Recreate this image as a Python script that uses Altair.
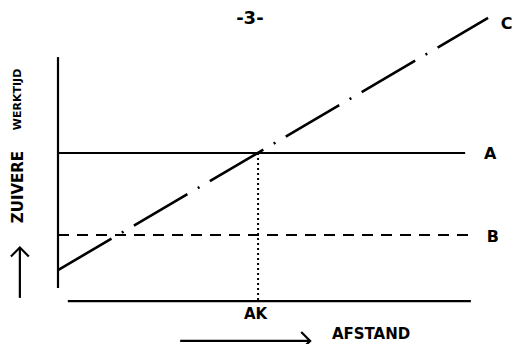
import altair as alt
import pandas as pd

# Diagram coordinates (x: afstand 0-100, y: zuivere werktijd 0-100)
# Axes of the diagram
axis_names = ["y_axis", "x_axis"]
axis_x1 = [0.0, 2.4]
axis_x2 = [0.0, 100.7]
axis_y1 = [0.0, -5.7]
axis_y2 = [100.4, -5.7]

# Horizontal lines A (solid) and B (dashed)
hline_names = ["A", "B"]
hline_x_end = [99.3, 101.0]
hline_y = [58.7, 23.0]

# Diagonal line C
c_x = [0.0, 104.9]
c_y = [7.8, 117.4]

# AK marker
ak_x = 48.8
ak_y_top = 58.7
ak_y_bottom = -5.7

# Labels
label_text = ["A", "B", "C", "AK", "-3-", "AFSTAND"]
label_x = [103.9, 104.6, 108.0, 48.2, 46.8, 66.8]
label_y = [58.4, 22.3, 114.8, -11.4, 117.0, -20.0]
label_align = ["left", "left", "left", "center", "center", "left"]
label_size = [16, 16, 16, 15, 18, 15]

ylabel_text = ["ZUIVERE", "WERKTIJD"]
ylabel_x = [-9.8, -9.8]
ylabel_y = [43.9, 82.0]
ylabel_size = [15, 11]

# Arrows
arrow_names = ["x_arrow", "y_arrow"]
arrow_x1 = [29.8, -9.3]
arrow_x2 = [61.5, -9.3]
arrow_y1 = [-23.0, -4.3]
arrow_y2 = [-23.0, 17.6]

xs = alt.Scale(domain=[0, 100], nice=False, zero=False)
ys = alt.Scale(domain=[0, 100], nice=False, zero=False)
FONT = "DejaVu Sans"

axes_df = pd.DataFrame({"n": axis_names, "x": axis_x1, "x2": axis_x2, "y": axis_y1, "y2": axis_y2})
axes = alt.Chart(axes_df).mark_rule(color="black", strokeWidth=2.2).encode(
    x=alt.X("x:Q", scale=xs, axis=None), x2="x2:Q",
    y=alt.Y("y:Q", scale=ys, axis=None), y2="y2:Q")

h_df = pd.DataFrame({"n": hline_names, "x": [0.0, 0.0], "x2": hline_x_end, "y": hline_y})
line_a = alt.Chart(h_df[h_df.n == "A"]).mark_rule(color="black", strokeWidth=2).encode(
    x=alt.X("x:Q", scale=xs, axis=None), x2="x2:Q", y=alt.Y("y:Q", scale=ys, axis=None))
line_b = alt.Chart(h_df[h_df.n == "B"]).mark_rule(color="black", strokeWidth=2, strokeDash=[11, 8]).encode(
    x=alt.X("x:Q", scale=xs, axis=None), x2="x2:Q", y=alt.Y("y:Q", scale=ys, axis=None))

c_df = pd.DataFrame({"x": [c_x[0]], "x2": [c_x[1]], "y": [c_y[0]], "y2": [c_y[1]]})
line_c = alt.Chart(c_df).mark_rule(color="black", strokeWidth=2.6, strokeDash=[62, 12, 2, 12]).encode(
    x=alt.X("x:Q", scale=xs, axis=None), x2="x2:Q",
    y=alt.Y("y:Q", scale=ys, axis=None), y2="y2:Q")

ak_df = pd.DataFrame({"x": [ak_x], "y": [ak_y_top], "y2": [ak_y_bottom]})
ak_line = alt.Chart(ak_df).mark_rule(color="black", strokeWidth=2, strokeDash=[2, 3]).encode(
    x=alt.X("x:Q", scale=xs, axis=None), y=alt.Y("y:Q", scale=ys, axis=None), y2="y2:Q")

lab_df = pd.DataFrame({"t": label_text, "x": label_x, "y": label_y, "a": label_align, "s": label_size})
labels = []
for i in range(len(label_text)):
    labels.append(alt.Chart(lab_df.iloc[[i]]).mark_text(
        font=FONT, fontWeight="bold", fontSize=label_size[i], align=label_align[i],
        baseline="middle", color="black").encode(
        x=alt.X("x:Q", scale=xs, axis=None), y=alt.Y("y:Q", scale=ys, axis=None), text="t:N"))

yl_df = pd.DataFrame({"t": ylabel_text, "x": ylabel_x, "y": ylabel_y, "s": ylabel_size})
ylabels = []
for i in range(len(ylabel_text)):
    ylabels.append(alt.Chart(yl_df.iloc[[i]]).mark_text(
        font=FONT, fontWeight="bold", fontSize=ylabel_size[i], angle=270, align="center",
        baseline="middle", color="black").encode(
        x=alt.X("x:Q", scale=xs, axis=None), y=alt.Y("y:Q", scale=ys, axis=None), text="t:N"))

ar_df = pd.DataFrame({"n": arrow_names, "x": arrow_x1, "x2": arrow_x2, "y": arrow_y1, "y2": arrow_y2})
arrow_shafts = alt.Chart(ar_df).mark_rule(color="black", strokeWidth=2.2).encode(
    x=alt.X("x:Q", scale=xs, axis=None), x2="x2:Q",
    y=alt.Y("y:Q", scale=ys, axis=None), y2="y2:Q")
head_x = alt.Chart(ar_df[ar_df.n == "x_arrow"]).mark_point(
    shape="M-1,-1L0,0L-1,1", filled=False, color="black", strokeWidth=2.2, size=320, opacity=1).encode(
    x=alt.X("x2:Q", scale=xs, axis=None), y=alt.Y("y2:Q", scale=ys, axis=None))
head_y = alt.Chart(ar_df[ar_df.n == "y_arrow"]).mark_point(
    shape="M-1,1L0,0L1,1", filled=False, color="black", strokeWidth=2.2, size=320, opacity=1).encode(
    x=alt.X("x2:Q", scale=xs, axis=None), y=alt.Y("y2:Q", scale=ys, axis=None))

chart = alt.layer(axes, line_a, line_b, line_c, ak_line, arrow_shafts, head_x, head_y,
                  *labels, *ylabels).properties(
    width=410, height=230,
    padding={"left": 50, "top": 50, "right": 48, "bottom": 56},
    autosize="none",
).configure_view(stroke=None)

chart.save("out.html", embed_options={"renderer": "svg", "actions": False})
